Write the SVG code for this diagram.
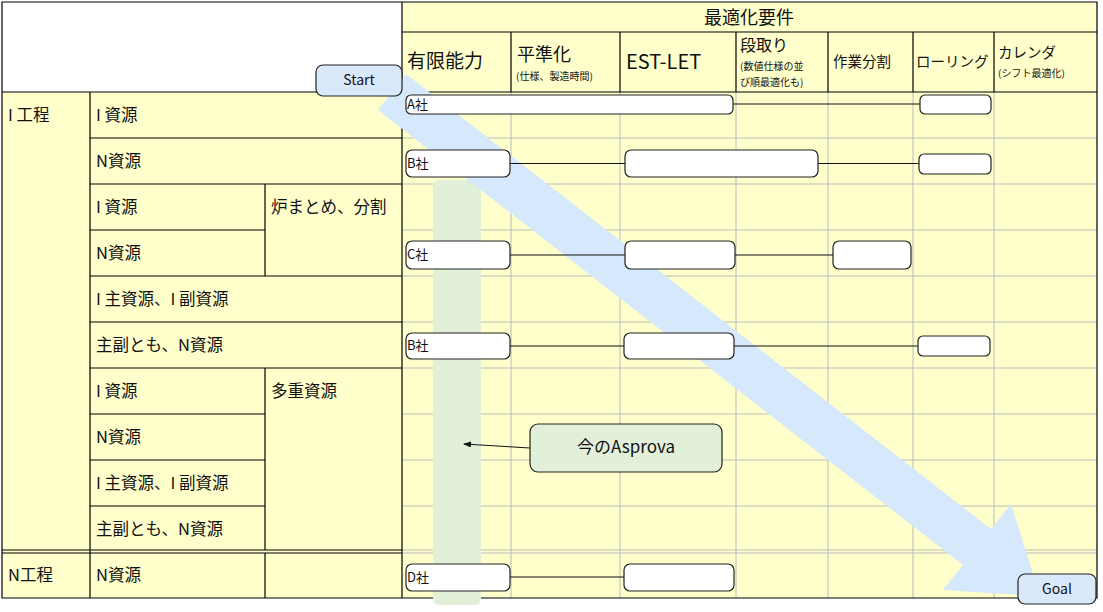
<svg xmlns="http://www.w3.org/2000/svg" width="1103" height="612" viewBox="0 0 1103 612">
<style>
text{font-family:"Noto Sans CJK JP","Noto Sans",sans-serif;fill:#111}
.l{font-size:16.5px}
.s{font-size:10px}
.b{stroke:#000;stroke-width:1.2;fill:none}
.g{stroke:#bbb;stroke-width:1;fill:none}
.box{fill:#fff;stroke:#222;stroke-width:1.2}
.c{stroke:#111;stroke-width:1.2}
</style>
<defs><marker id="ah" markerWidth="8" markerHeight="6" refX="7" refY="3" orient="auto"><path d="M0,0L8,3L0,6z" fill="#111"/></marker></defs>
<rect x="0" y="0" width="1103" height="612" fill="#fff"/>
<g id="table">
<rect x="2" y="92" width="1095" height="506" fill="#ffffcc"/>
<rect x="402" y="2" width="695" height="90" fill="#ffffcc"/>
<path class="g" d="M511 92V598M620 92V598M736 92V598M828 92V598M913 92V598M994 92V598M402 138H1097M402 184H1097M402 230H1097M402 276H1097M402 322H1097M402 368H1097M402 414H1097M402 460H1097M402 506H1097M402 550H1097M402 553H1097"/>
<path class="b" d="M2 2H1097V598H2ZM402 2V598M402 32H1097M2 92H1097M511 32V92M620 32V92M736 32V92M828 32V92M913 32V92M994 32V92M90 92V598M90 138H402M90 184H402M90 230H265M90 276H402M90 322H402M90 368H402M90 414H265M90 460H265M90 506H265M2 550H402M2 553H402M265 184V276M265 368V550M265 553V598"/>
<text x="749" y="24" font-size="18" text-anchor="middle">最適化要件</text>
<text x="407" y="68" font-size="19">有限能力</text>
<text x="517" y="61" font-size="18">平準化</text>
<text x="516" y="80" class="s">(仕様、製造時間)</text>
<text x="626" y="69" font-size="20">EST-LET</text>
<text x="740" y="51" font-size="16">段取り</text>
<text x="740" y="70" class="s">(数値仕様の並</text>
<text x="740" y="86" class="s">び順最適化も)</text>
<text x="833" y="67" font-size="14.5">作業分割</text>
<text x="916" y="67" font-size="14.5">ローリング</text>
<text x="998" y="58" font-size="14.5">カレンダ</text>
<text x="998" y="77" class="s">(シフト最適化)</text>
<text x="8" y="121" class="l">I 工程</text>
<text x="8" y="581" class="l">N工程</text>
<text x="96" y="121" class="l">I 資源</text>
<text x="96" y="167" class="l">N資源</text>
<text x="96" y="213" class="l">I 資源</text>
<text x="96" y="259" class="l">N資源</text>
<text x="96" y="305" class="l">I 主資源、I 副資源</text>
<text x="96" y="351" class="l">主副とも、N資源</text>
<text x="96" y="397" class="l">I 資源</text>
<text x="96" y="443" class="l">N資源</text>
<text x="96" y="489" class="l">I 主資源、I 副資源</text>
<text x="96" y="535" class="l">主副とも、N資源</text>
<text x="96" y="581" class="l">N資源</text>
<text x="271" y="213" class="l">炉まとめ、分割</text>
<text x="271" y="397" class="l">多重資源</text>
</g>
<g id="current-band"><rect x="433" y="180" width="48" height="425" rx="6" fill="#e2f0d9"/></g>
<g id="goal-arrow"><polygon points="406,74 991,529 1011,504 1040,596 943,590 963,565 378,110" fill="#d6e8fb"/></g>
<g id="connectors">
<path class="c" d="M733 104H920M510 163.5H625M818 163.5H919M510 255H625M735 255H833M510 346H624M734 346H918M510 577H624"/>
<line x1="530" y1="448" x2="464" y2="444" stroke="#111" stroke-width="1" marker-end="url(#ah)"/>
</g>
<g id="rowA"><rect class="box" x="406" y="95" width="327" height="19" rx="5"/><text x="407" y="109" font-size="13">A社</text><rect class="box" x="920" y="95" width="71" height="19" rx="5"/></g>
<g id="rowB"><rect class="box" x="406" y="150" width="104" height="27" rx="6"/><text x="407" y="168" font-size="13">B社</text><rect class="box" x="625" y="150" width="193" height="27" rx="6"/><rect class="box" x="919" y="154" width="72" height="20" rx="5"/></g>
<g id="rowC"><rect class="box" x="406" y="241" width="104" height="28" rx="6"/><text x="407" y="259" font-size="13">C社</text><rect class="box" x="625" y="241" width="110" height="28" rx="6"/><rect class="box" x="833" y="241" width="78" height="28" rx="6"/></g>
<g id="rowB2"><rect class="box" x="406" y="333" width="104" height="26" rx="6"/><text x="407" y="350" font-size="13">B社</text><rect class="box" x="624" y="333" width="110" height="26" rx="6"/><rect class="box" x="918" y="336" width="72" height="20" rx="5"/></g>
<g id="rowD"><rect class="box" x="406" y="564" width="104" height="27" rx="6"/><text x="407" y="582" font-size="13">D社</text><rect class="box" x="624" y="564" width="110" height="27" rx="6"/></g>
<g id="callout"><rect x="530" y="424" width="192" height="48" rx="8" fill="#e2f0d9" stroke="#222" stroke-width="1.2"/><text x="626" y="453" font-size="17" text-anchor="middle">今のAsprova</text></g>
<g id="start"><rect x="316" y="65" width="86" height="31" rx="7" fill="#dae8fc" stroke="#222" stroke-width="1.2"/><text x="359" y="85" font-size="14" text-anchor="middle">Start</text></g>
<g id="goal"><rect x="1018" y="574" width="78" height="30" rx="7" fill="#dae8fc" stroke="#222" stroke-width="1.2"/><text x="1057" y="594" font-size="14" text-anchor="middle">Goal</text></g>
</svg>
